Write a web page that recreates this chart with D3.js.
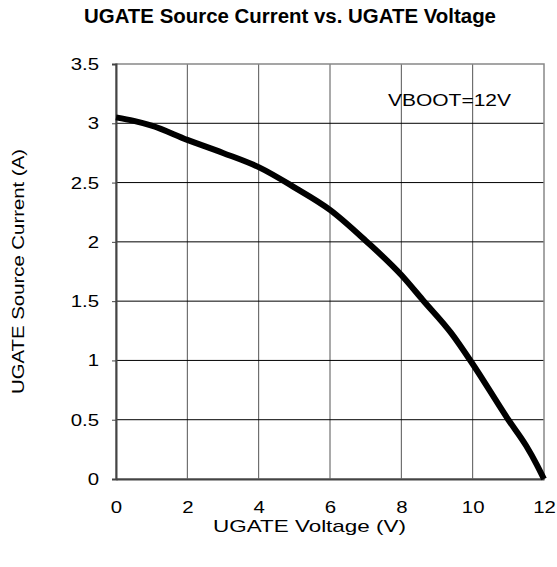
<!DOCTYPE html>
<html><head><meta charset="utf-8">
<script src="https://cdn.jsdelivr.net/npm/d3@7/dist/d3.min.js"></script>
<style>body{margin:0;background:#fff}svg{display:block}text{font-family:"Liberation Sans",Arial,sans-serif}</style>
</head><body><svg id="c" width="557" height="567"></svg>
<script>
const voltage = [0, 0.5, 1, 2, 3, 4, 5, 6, 7, 8, 8.6, 9.4, 10, 11, 11.5, 11.8, 12];
const current = [3.05, 3.02, 2.98, 2.86, 2.75, 2.63, 2.46, 2.27, 2.01, 1.72, 1.51, 1.23, 0.97, 0.5, 0.28, 0.12, 0];
const xTicks = [0, 2, 4, 6, 8, 10, 12];
const yTicks = [0, 0.5, 1, 1.5, 2, 2.5, 3, 3.5];

const svg = d3.select("#c");
const L = 116, R = 544, T = 64, B = 479;
const x = d3.scaleLinear().domain([0, 12]).range([L, R]);
const y = d3.scaleLinear().domain([0, 3.5]).range([B, T]);
const SX = 1.2;

// grid
svg.append("g").selectAll("line").data(xTicks.slice(1, -1)).join("line")
  .attr("x1", d => x(d)).attr("x2", d => x(d)).attr("y1", T).attr("y2", B)
  .attr("stroke", "#555").attr("stroke-width", 1);
svg.append("g").selectAll("line").data(yTicks.slice(1, -1)).join("line")
  .attr("x1", L).attr("x2", R).attr("y1", d => y(d)).attr("y2", d => y(d))
  .attr("stroke", "#000").attr("stroke-width", 1);
svg.append("rect").attr("x", L).attr("y", T).attr("width", R - L).attr("height", B - T)
  .attr("fill", "none").attr("stroke", "#888").attr("stroke-width", 1.5);

// axes
const xa = svg.append("g").attr("transform", `translate(0,${B})`)
  .call(d3.axisBottom(x).tickValues(xTicks).tickSize(0).tickPadding(22).tickFormat(d3.format("d")));
const ya = svg.append("g").attr("transform", `translate(${L},0)`)
  .call(d3.axisLeft(y).tickValues(yTicks).tickSize(4).tickPadding(14).tickFormat(d => d));
[xa, ya].forEach(a => {
  a.select(".domain").attr("stroke", "#444").attr("stroke-width", 2);
  a.selectAll("text").attr("font-size", 17).attr("fill", "#000")
    .attr("font-family", "Liberation Sans, Arial, sans-serif");
});
xa.selectAll(".tick text").attr("y", 22).attr("dy", "0.71em").attr("transform", `scale(${SX},1)`);
ya.selectAll(".tick text").attr("x", -17 / SX).attr("transform", `scale(${SX},1)`);
ya.selectAll(".tick line").attr("stroke", "#444");

// line
svg.append("path").datum(voltage.map((v, i) => [v, current[i]]))
  .attr("fill", "none").attr("stroke", "#000").attr("stroke-width", 6).attr("stroke-linejoin", "round")
  .attr("d", d3.line().x(d => x(d[0])).y(d => y(d[1])).curve(d3.curveMonotoneX));

// texts
svg.append("text").attr("x", 84).attr("y", 23)
  .attr("font-size", 19.5).attr("font-weight", "bold")
  .attr("textLength", 412).attr("lengthAdjust", "spacingAndGlyphs")
  .text("UGATE Source Current vs. UGATE Voltage");
svg.append("text").attr("x", 213).attr("y", 532)
  .attr("font-size", 17).attr("textLength", 193).attr("lengthAdjust", "spacingAndGlyphs")
  .text("UGATE Voltage (V)");
svg.append("text").attr("transform", "translate(24,394) rotate(-90)")
  .attr("font-size", 17).attr("textLength", 245).attr("lengthAdjust", "spacingAndGlyphs")
  .text("UGATE Source Current (A)");
svg.append("text").attr("x", 388).attr("y", 106).attr("font-size", 17)
  .attr("textLength", 123).attr("lengthAdjust", "spacingAndGlyphs").text("VBOOT=12V");
</script></body></html>
